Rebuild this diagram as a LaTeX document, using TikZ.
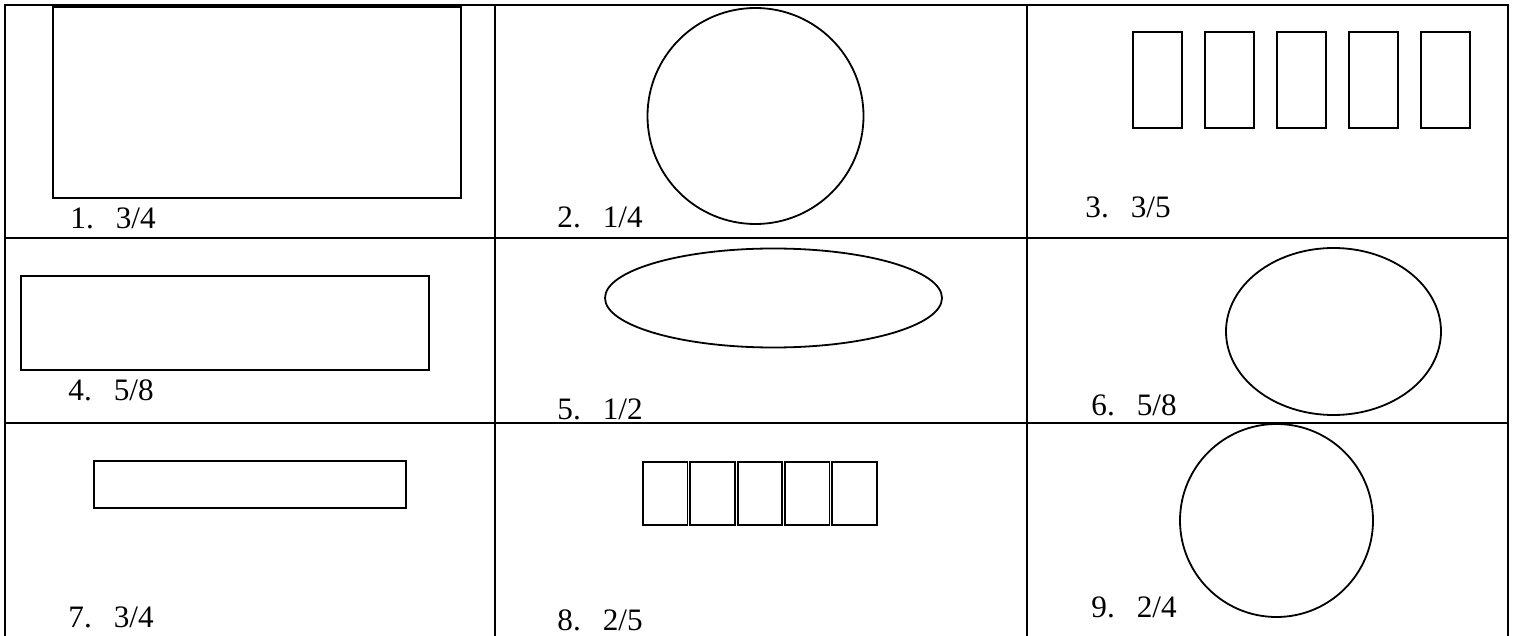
\documentclass[tikz,border=0pt]{standalone}
\usepackage{fontspec}
\setmainfont{Liberation Serif}
\begin{document}
\begin{tikzpicture}[x=0.5pt,y=0.5pt,
  grid/.style={line width=1.25pt,black},
  shp/.style={line width=0.9pt,black},
  lbl/.style={anchor=base west,inner sep=0pt,font=\fontsize{15.6}{18}\selectfont}]
\useasboundingbox (0,0) rectangle (1515,-636);
% table grid
\draw[grid] (5,-636) -- (5,-5) -- (1508,-5) -- (1508,-636);
\draw[grid] (495,-5) -- (495,-636);
\draw[grid] (1027,-5) -- (1027,-636);
\draw[grid] (5,-238) -- (1508,-238);
\draw[grid] (5,-423) -- (1508,-423);
% cell 1
\draw[shp] (53,-7) rectangle (461,-198);
\node[lbl] (l1) at (70,-229) {1.\hspace{11pt}3/4};
% cell 2
\draw[shp] (755.5,-116) circle [radius=108];
\node[lbl] (l2) at (557,-228) {2.\hspace{11pt}1/4};
% cell 3
\foreach \i in {0,...,4}
  \draw[shp] (1133+72*\i,-32) rectangle (1182+72*\i,-128);
\node[lbl] (l3) at (1085,-218) {3.\hspace{11pt}3/5};
% cell 4
\draw[shp] (21,-276) rectangle (429,-370);
\node[lbl] (l4) at (68,-400) {4.\hspace{11pt}5/8};
% cell 5
\draw[shp] (773.5,-298) ellipse [x radius=168.5, y radius=49.5];
\node[lbl] (l5) at (557,-419) {5.\hspace{11pt}1/2};
% cell 6
\draw[shp] (1333.5,-331.5) ellipse [x radius=107.5, y radius=83.5];
\node[lbl] (l6) at (1091,-415) {6.\hspace{11pt}5/8};
% cell 7
\draw[shp] (94,-461) rectangle (406,-508);
\node[lbl] (l7) at (68,-627) {7.\hspace{11pt}3/4};
% cell 8
\foreach \i in {0,...,4}
  \draw[shp] (643+47.3*\i,-462) rectangle (687.5+47.3*\i,-525);
\node[lbl] (l8) at (557,-630) {8.\hspace{11pt}2/5};
% cell 9
\draw[shp] (1276.5,-520.5) circle [radius=96.5];
\node[lbl] (l9) at (1091,-617) {9.\hspace{11pt}2/4};
\end{tikzpicture}
\end{document}
